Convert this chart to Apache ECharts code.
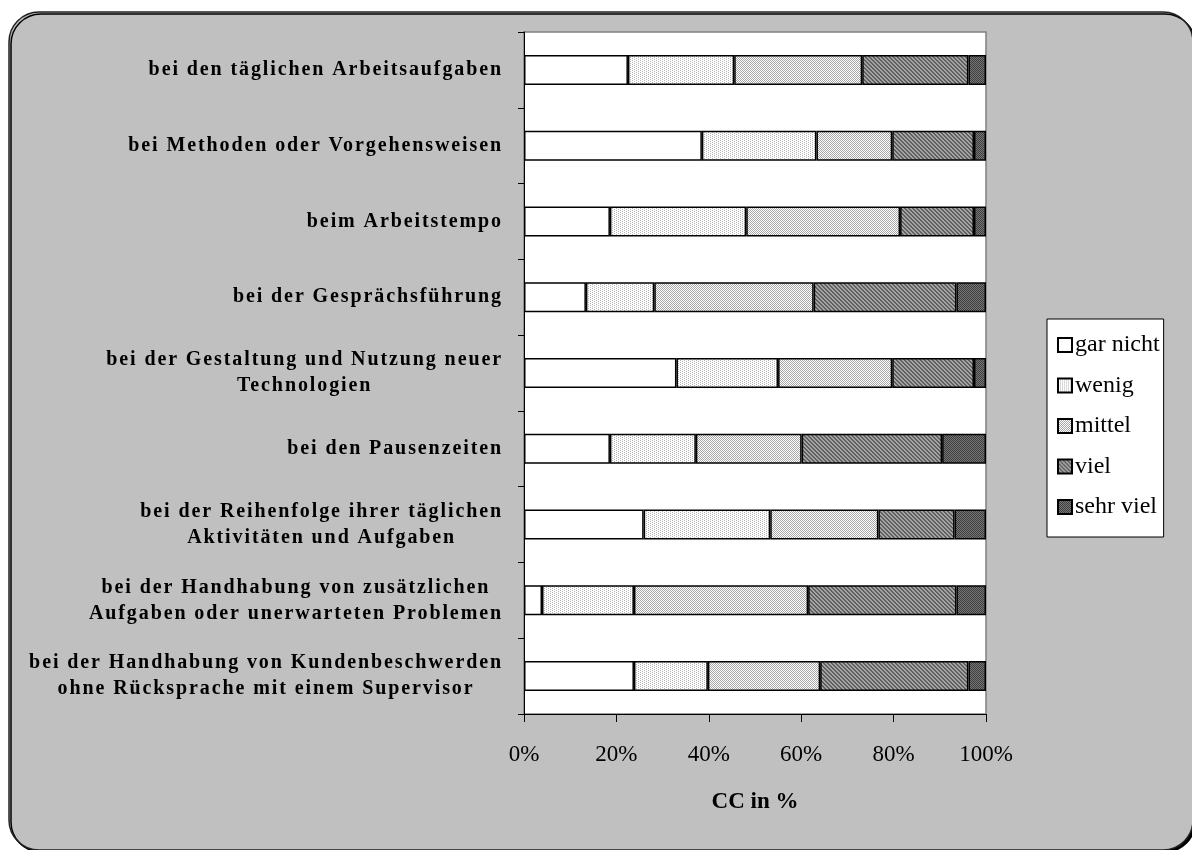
<!DOCTYPE html>
<html>
<head>
<meta charset="utf-8">
<script src="https://cdn.jsdelivr.net/npm/echarts@6/dist/echarts.min.js"></script>
<style>
html,body{margin:0;padding:0;background:#fff;}
#chart{width:1192px;height:850px;}
</style>
</head>
<body>
<div id="chart"></div>
<script>
// ---- data ----
const categories = [
  "bei den täglichen Arbeitsaufgaben",
  "bei Methoden oder Vorgehensweisen",
  "beim Arbeitstempo",
  "bei der Gesprächsführung",
  "bei der Gestaltung und Nutzung neuer\nTechnologien",
  "bei den Pausenzeiten",
  "bei der Reihenfolge ihrer täglichen\nAktivitäten und Aufgaben",
  "bei der Handhabung von zusätzlichen\nAufgaben oder unerwarteten Problemen",
  "bei der Handhabung von Kundenbeschwerden\nohne Rücksprache mit einem Supervisor"
];
const seriesNames = ["gar nicht", "wenig", "mittel", "viel", "sehr viel"];
const garNicht = [22.5, 38.5, 18.6, 13.4, 33.0, 18.6, 25.9, 3.9, 23.8];
const wenig    = [23.0, 24.8, 29.5, 14.8, 22.0, 18.6, 27.4, 19.9, 16.0];
const mittel   = [27.7, 16.4, 33.3, 34.5, 24.7, 22.9, 23.4, 37.7, 24.3];
const viel     = [23.0, 17.7, 16.0, 30.9, 17.7, 30.4, 16.5, 32.1, 32.1];
const sehrViel = [3.8, 2.6, 2.6, 6.4, 2.6, 9.5, 6.8, 6.4, 3.8];
const xTicks = [0, 20, 40, 60, 80, 100];
const xAxisTitle = "CC in %";

// ---- styling helpers ----
const LABEL_SIZE = 20;
const LABEL_FONT = "bold " + LABEL_SIZE + "px 'Liberation Serif'";
const LETTER_SP = 1.9;

// letter spacing for the bold category labels only
const origFill = CanvasRenderingContext2D.prototype.fillText;
CanvasRenderingContext2D.prototype.fillText = function (t, x, y, w) {
  const f = this.font || '';
  const spaced = f.indexOf('bold') >= 0 && f.indexOf(LABEL_SIZE + 'px') >= 0;
  try { this.letterSpacing = spaced ? LETTER_SP + 'px' : '0px'; } catch (e) {}
  return w === undefined ? origFill.call(this, t, x, y) : origFill.call(this, t, x, y, w);
};

const mctx = document.createElement('canvas').getContext('2d');
mctx.font = LABEL_FONT;
function blockWidth(s) {
  return Math.max.apply(null, s.split('\n').map(l => mctx.measureText(l).width + l.length * LETTER_SP));
}

function makePattern(fn) {
  const c = document.createElement('canvas');
  c.width = 4; c.height = 4;
  const ctx = c.getContext('2d');
  for (let y = 0; y < 4; y++) for (let x = 0; x < 4; x++) {
    ctx.fillStyle = fn(x, y);
    ctx.fillRect(x, y, 1, 1);
  }
  return { image: c, repeat: 'repeat' };
}
const fills = [
  '#ffffff',
  makePattern((x, y) => ((x + 2 * y) % 4 === 0 ? '#b4b4b4' : '#ffffff')),
  makePattern((x, y) => ((x + y) % 2 === 0 ? '#a6a6a6' : '#ffffff')),
  makePattern((x, y) => (((x - y + 8) % 4) < 2 ? '#606060' : '#a4a4a4')),
  makePattern((x, y) => ((x + y) % 2 === 0 ? '#3e3e3e' : '#767676'))
];
const values = [garNicht, wenig, mittel, viel, sehrViel];

const chart = echarts.init(document.getElementById('chart'), null, { renderer: 'canvas' });
const option = {
  backgroundColor: '#ffffff',
  animation: false,
  graphic: [{
    type: 'rect',
    z: -10,
    shape: { x: 9, y: 12, width: 1184, height: 838, r: 30 },
    style: { fill: '#c0c0c0', stroke: '#222', lineWidth: 1.5, shadowColor: '#000', shadowOffsetX: 2, shadowOffsetY: 2, shadowBlur: 0 }
  }],
  grid: {
    left: 524, right: 206, top: 32, bottom: 136,
    show: true, backgroundColor: '#ffffff', borderColor: '#808080', borderWidth: 1.5
  },
  legend: {
    orient: 'vertical',
    left: 1047, top: 319,
    backgroundColor: '#ffffff', borderColor: '#000', borderWidth: 1,
    padding: [14, 4, 18, 10],
    icon: 'rect',
    itemWidth: 14, itemHeight: 14, itemGap: 16.5,
    textStyle: { fontFamily: 'Liberation Serif', fontSize: 24, color: '#000', lineHeight: 24, padding: [0, 0, 0, -2] },
    data: seriesNames
  },
  xAxis: {
    type: 'value', min: xTicks[0], max: xTicks[xTicks.length - 1], interval: 20,
    name: xAxisTitle, nameLocation: 'middle', nameGap: 77,
    nameTextStyle: { fontFamily: 'Liberation Serif', fontWeight: 'bold', fontSize: 23, color: '#000' },
    axisLine: { show: true, lineStyle: { color: '#000', width: 1 } },
    axisTick: { show: true, length: 8, lineStyle: { color: '#000' } },
    axisLabel: { formatter: '{value}%', margin: 29, fontFamily: 'Liberation Serif', fontSize: 23, color: '#000' },
    splitLine: { show: false }
  },
  yAxis: {
    type: 'category', inverse: true,
    data: categories.map(c => ({ value: c, textStyle: { align: 'center', padding: [0, blockWidth(c), 0, 0] } })),
    axisLine: { show: true, lineStyle: { color: '#000', width: 1 } },
    axisTick: { show: true, length: 6, lineStyle: { color: '#000' } },
    axisLabel: {
      interval: 0, margin: 21,
      fontFamily: 'Liberation Serif', fontWeight: 'bold', fontSize: LABEL_SIZE, lineHeight: 26, color: '#000'
    },
    splitLine: { show: false }
  },
  series: seriesNames.map((n, i) => ({
    name: n, type: 'bar', stack: 'total', barWidth: 30,
    itemStyle: { color: fills[i], borderColor: '#000', borderWidth: 1.5 },
    emphasis: { disabled: true },
    data: values[i]
  }))
};
chart.setOption(option);
</script>
</body>
</html>
